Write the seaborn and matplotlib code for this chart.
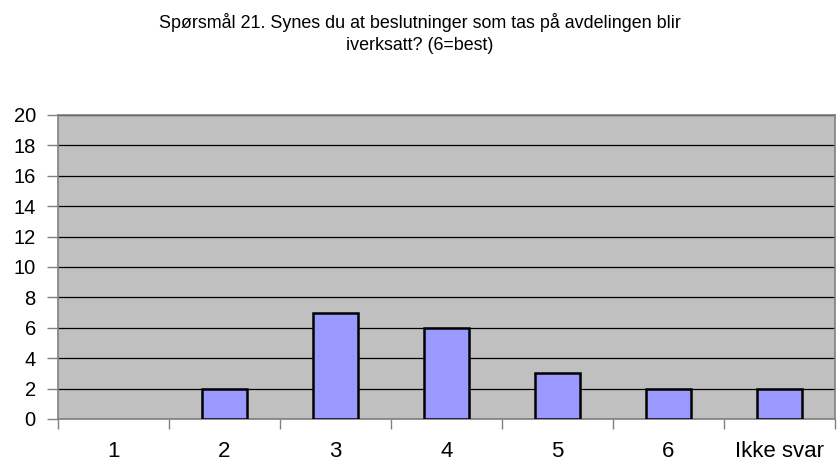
import matplotlib
matplotlib.use("Agg")
import matplotlib.pyplot as plt
import seaborn as sns
import numpy as np
import pandas as pd

categories = ["1", "2", "3", "4", "5", "6", "Ikke svar"]
counts = [0, 2, 7, 6, 3, 2, 2]
y_ticks = [0, 2, 4, 6, 8, 10, 12, 14, 16, 18, 20]

sns.set_theme(style="white")
plt.rcParams["font.family"] = ["Liberation Sans", "DejaVu Sans"]
plt.rcParams["text.color"] = "black"
plt.rcParams["xtick.color"] = "black"
plt.rcParams["ytick.color"] = "black"

df = pd.DataFrame({"svar": categories, "antall": counts})

fig = plt.figure(figsize=(8.4, 4.66), dpi=100)
ax = fig.add_axes([58 / 840, 1 - 419 / 466, (835 - 58) / 840, (419 - 115) / 466])
ax.set_facecolor("#C0C0C0")

sns.barplot(data=df, x="svar", y="antall", ax=ax, color="#9999FF",
            saturation=1, width=0.4, edgecolor="black", linewidth=1.8, zorder=3)

# an empty category gets no outline
for patch, value in zip(ax.patches, counts):
    if value == 0:
        patch.set_linewidth(0)

ax.set_ylim(0, 20)
ax.set_xlim(-0.5, len(categories) - 0.5)
ax.set_yticks(y_ticks)
ax.set_yticklabels([str(v) for v in y_ticks], fontsize=14.5)
ax.yaxis.grid(True, color="black", linewidth=0.9, zorder=1)
ax.set_axisbelow(True)

# tick marks between categories, labels centered under each bar
ax.set_xticks(np.arange(-0.5, len(categories) + 0.5, 1.0))
ax.set_xticklabels([])
ax.set_xticks(np.arange(len(categories)), minor=True)
ax.set_xticklabels(categories, minor=True, fontsize=16)
ax.tick_params(axis="x", which="major", length=7, width=1, color="#808080",
               direction="out", bottom=True)
ax.tick_params(axis="x", which="minor", length=0, pad=16)
ax.tick_params(axis="y", length=8, width=1, color="#808080", direction="out",
               left=True, pad=8)

for side in ["left", "bottom", "right", "top"]:
    ax.spines[side].set_visible(True)
    ax.spines[side].set_color("#808080")
    ax.spines[side].set_linewidth(1.2)

ax.set_xlabel("")
ax.set_ylabel("")

fig.text(0.5, 1 - 22 / 466, "Spørsmål 21. Synes du at beslutninger som tas på avdelingen blir",
         ha="center", va="center", fontsize=12.9)
fig.text(0.5, 1 - 45 / 466, "iverksatt? (6=best)", ha="center", va="center", fontsize=12.9)

fig.savefig("out.png", dpi=100)
